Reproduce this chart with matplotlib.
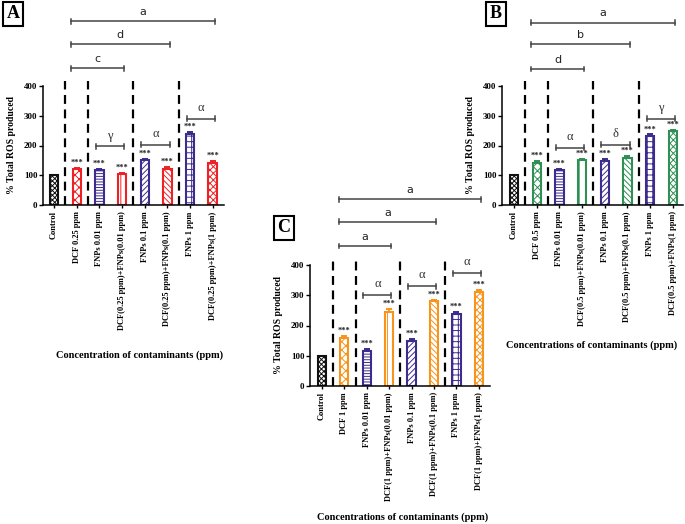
import matplotlib
matplotlib.use("Agg")
import matplotlib.pyplot as plt

W, H = 685, 524

# ---- data ----
A_labels = ["Control", "DCF 0.25 ppm", "FNPs 0.01 ppm", "DCF(0.25 ppm)+FNPs(0.01 ppm)",
            "FNPs 0.1 ppm", "DCF(0.25 ppm)+FNPs(0.1 ppm)", "FNPs 1 ppm", "DCF(0.25 ppm)+FNPs(1 ppm)"]
A_vals = [100, 120, 118, 105, 150, 122, 240, 142]
A_err = [0, 6, 4, 3, 5, 7, 6, 6]

B_labels = ["Control", "DCF 0.5 ppm", "FNPs 0.01 ppm", "DCF(0.5 ppm)+FNPs(0.01 ppm)",
            "FNPs 0.1 ppm", "DCF(0.5 ppm)+FNPs(0.1 ppm)", "FNPs 1 ppm", "DCF(0.5 ppm)+FNPs(1 ppm)"]
B_vals = [100, 140, 118, 150, 148, 158, 233, 248]
B_err = [0, 9, 4, 5, 6, 7, 4, 5]

C_labels = ["Control", "DCF 1 ppm", "FNPs 0.01 ppm", "DCF(1 ppm)+FNPs(0.01 ppm)",
            "FNPs 0.1 ppm", "DCF(1 ppm)+FNPs(0.1 ppm)", "FNPs 1 ppm", "DCF(1 ppm)+FNPs(1 ppm)"]
C_vals = [100, 160, 117, 245, 150, 280, 238, 312]
C_err = [0, 4, 4, 8, 5, 5, 8, 5]

# brackets: (first bar, last bar, height, label)
A_letters = [(1, 7, 617, "a"), (1, 5, 540, "d"), (1, 3, 460, "c")]
A_greek = [(2, 3, 197, "γ"), (4, 5, 203, "α"), (6, 7, 290, "α")]
B_letters = [(1, 7, 613, "a"), (1, 5, 540, "b"), (1, 3, 457, "d")]
B_greek = [(2, 3, 193, "α"), (4, 5, 203, "δ"), (6, 7, 290, "γ")]
C_letters = [(1, 7, 617, "a"), (1, 5, 543, "a"), (1, 3, 463, "a")]
C_greek = [(2, 3, 300, "α"), (4, 5, 330, "α"), (6, 7, 373, "α")]

PURPLE = "#3d2b8e"
RED = "#ec2227"
GREEN = "#2f8f55"
ORANGE = "#f7941d"
hatches = ["xxxxxxx", "xxxx", "------", "||", "//////", "\\\\\\\\\\\\", "+++", "xxxxx"]
SERIF = ["Liberation Serif", "DejaVu Serif"]

plt.rcParams["hatch.linewidth"] = 0.7
plt.rcParams["font.family"] = SERIF

fig = plt.figure(figsize=(W / 100, H / 100), dpi=100)


def px_axes(x0, x1, ytop, ybot):
    return fig.add_axes([x0 / W, 1 - ybot / H, (x1 - x0) / W, (ybot - ytop) / H])


def panel(ax, labels, vals, errs, main_color, letters, greek, xlim):
    n = len(vals)
    x = list(range(n))
    for i in x:
        if i == 0:
            col = "#111111"
        elif i in (2, 4, 6):
            col = PURPLE
        else:
            col = main_color
        ax.bar(i, vals[i], width=0.37, facecolor="white", edgecolor=col,
               hatch=hatches[i], linewidth=1.5, zorder=2)
        if errs[i] > 0:
            ax.errorbar(i, vals[i], yerr=[[0], [errs[i]]], ecolor=col, elinewidth=1.4,
                        capsize=2.5, capthick=1.4, fmt="none", zorder=3)
            ax.text(i, vals[i] + errs[i] + 4, "***", ha="center", va="bottom",
                    fontsize=6, fontweight="bold", color="#222222")
    ax.vlines([0.5, 1.5, 3.5, 5.5], 0, 418, colors="black", linestyles=(0, (4, 2.5)),
              linewidth=1.6, clip_on=False, zorder=1)

    bc = "#444444"
    for i1, i2, yb, lab in letters:
        xa, xb = i1 - 0.25, i2 + 0.1
        ax.plot([xa, xb], [yb, yb], color=bc, lw=1.1, clip_on=False)
        ax.plot([xa, xa], [yb - 8, yb + 8], color=bc, lw=1.1, clip_on=False)
        ax.plot([xb, xb], [yb - 8, yb + 8], color=bc, lw=1.1, clip_on=False)
        ax.text((xa + xb) / 2, yb + 14, lab, ha="center", va="bottom", fontsize=8,
                family=["DejaVu Sans"], color="#222222")
    for i1, i2, yb, lab in greek:
        xa, xb = i1 - 0.15, i2 + 0.1
        ax.plot([xa, xb], [yb, yb], color=bc, lw=1.1, clip_on=False)
        ax.plot([xa, xa], [yb - 8, yb + 8], color=bc, lw=1.1, clip_on=False)
        ax.plot([xb, xb], [yb - 8, yb + 8], color=bc, lw=1.1, clip_on=False)
        ax.text((xa + xb) / 2, yb + 16, lab, ha="center", va="bottom", fontsize=9,
                color="#333333")

    ax.set_xlim(*xlim)
    ax.set_ylim(0, 400)
    ax.set_yticks([0, 100, 200, 300, 400])
    ax.set_xticks(x)
    ax.set_xticklabels(labels, rotation=90, fontsize=6, fontweight="bold")
    for t in ax.get_yticklabels():
        t.set_fontsize(6.5)
        t.set_fontweight("bold")
    ax.tick_params(axis="y", length=3, width=1, pad=1)
    ax.tick_params(axis="x", length=2.5, width=1, pad=2)
    for s in ("top", "right"):
        ax.spines[s].set_visible(False)
    for s in ("left", "bottom"):
        ax.spines[s].set_linewidth(1.1)
    ax.set_ylabel("% Total ROS produced", fontsize=7, fontweight="bold", labelpad=6)


axA = px_axes(43, 224, 86, 205)
panel(axA, A_labels, A_vals, A_err, RED, A_letters, A_greek, (-0.49, 7.5))
axB = px_axes(502, 683, 86, 205)
panel(axB, B_labels, B_vals, B_err, GREEN, B_letters, B_greek, (-0.53, 7.45))
axC = px_axes(310, 490, 265, 386)
panel(axC, C_labels, C_vals, C_err, ORANGE, C_letters, C_greek, (-0.53, 7.5))

# x labels
fig.text(140 / W, 1 - 355 / H, "Concentration of contaminants (ppm)", ha="center",
         va="center", fontsize=7.5, fontweight="bold")
fig.text(592 / W, 1 - 345 / H, "Concentrations of contaminants (ppm)", ha="center",
         va="center", fontsize=7.5, fontweight="bold")
fig.text(403 / W, 1 - 517 / H, "Concentrations of contaminants (ppm)", ha="center",
         va="center", fontsize=7.5, fontweight="bold")

# panel letters
for lx, ly, lab in [(13, 14, "A"), (496, 14, "B"), (284, 228, "C")]:
    fig.text(lx / W, 1 - ly / H, lab, ha="center", va="center", fontsize=13,
             fontweight="bold",
             bbox=dict(boxstyle="square,pad=0.2", facecolor="white", edgecolor="black", lw=1.5))

fig.savefig("out.png", dpi=100)
